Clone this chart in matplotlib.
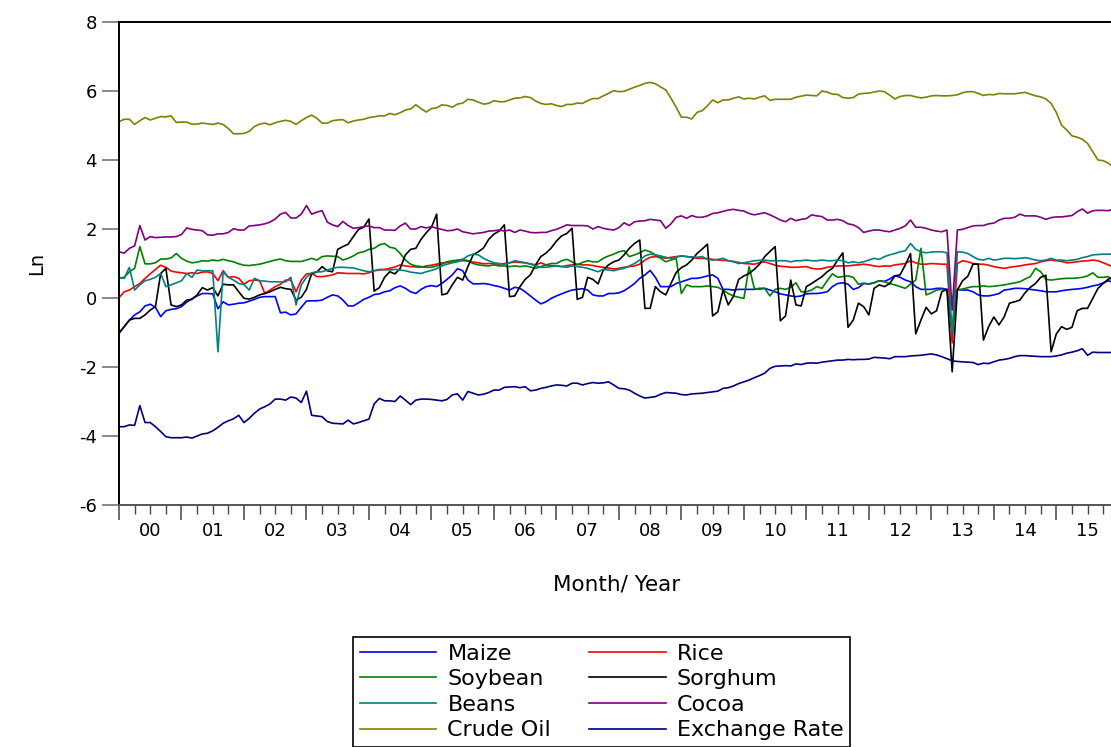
import numpy as np
import matplotlib
matplotlib.use('Agg')
from matplotlib import pyplot as plt

plt.rcParams['font.family'] = ['DejaVu Sans']
plt.rcParams['axes.unicode_minus'] = False

# monthly log values, Jan 2000 - Dec 2015 (one row per year)
maize = [-1.02, -0.83, -0.64, -0.49, -0.40, -0.23, -0.18, -0.27, -0.54, -0.37, -0.33, -0.31,
         -0.25, -0.12, -0.02, 0.06, 0.13, 0.13, 0.12, -0.31, -0.11, -0.20, -0.18, -0.15,
         -0.14, -0.09, -0.04, 0.02, 0.04, 0.04, 0.04, -0.43, -0.41, -0.49, -0.46, -0.27,
         -0.09, -0.08, -0.08, -0.06, 0.02, 0.09, 0.06, -0.06, -0.23, -0.23, -0.14, -0.04,
         0.02, 0.10, 0.12, 0.18, 0.21, 0.30, 0.35, 0.28, 0.18, 0.13, 0.25, 0.33,
         0.36, 0.33, 0.42, 0.54, 0.67, 0.85, 0.79, 0.52, 0.41, 0.41, 0.42, 0.40,
         0.36, 0.33, 0.28, 0.23, 0.31, 0.28, 0.18, 0.06, -0.06, -0.17, -0.11, -0.01,
         0.06, 0.12, 0.18, 0.23, 0.25, 0.27, 0.23, 0.09, 0.06, 0.06, 0.13, 0.13,
         0.15, 0.21, 0.31, 0.42, 0.57, 0.67, 0.80, 0.60, 0.33, 0.33, 0.33, 0.42,
         0.47, 0.52, 0.57, 0.57, 0.60, 0.64, 0.67, 0.57, 0.25, 0.25, 0.23, 0.25,
         0.25, 0.25, 0.25, 0.28, 0.28, 0.23, 0.18, 0.12, 0.09, 0.06, 0.04, 0.06,
         0.12, 0.13, 0.13, 0.15, 0.18, 0.33, 0.42, 0.44, 0.40, 0.25, 0.30, 0.42,
         0.41, 0.44, 0.50, 0.48, 0.55, 0.65, 0.60, 0.52, 0.47, 0.33, 0.25, 0.25,
         0.25, 0.28, 0.28, 0.25, -0.90, 0.25, 0.23, 0.23, 0.18, 0.09, 0.06, 0.06,
         0.09, 0.13, 0.23, 0.25, 0.28, 0.28, 0.27, 0.25, 0.23, 0.21, 0.18, 0.18,
         0.18, 0.21, 0.23, 0.25, 0.26, 0.28, 0.31, 0.35, 0.38, 0.44, 0.50, 0.45]

rice = [0.01, 0.18, 0.23, 0.33, 0.42, 0.57, 0.70, 0.83, 0.95, 0.89, 0.78, 0.75,
        0.73, 0.71, 0.73, 0.71, 0.75, 0.76, 0.71, 0.50, 0.79, 0.60, 0.62, 0.57,
        0.40, 0.50, 0.52, 0.50, 0.13, 0.23, 0.33, 0.40, 0.52, 0.52, 0.18, 0.52,
        0.70, 0.71, 0.62, 0.62, 0.64, 0.67, 0.73, 0.72, 0.71, 0.71, 0.71, 0.70,
        0.73, 0.79, 0.81, 0.83, 0.86, 0.90, 0.96, 0.93, 0.91, 0.90, 0.89, 0.93,
        0.95, 0.98, 1.02, 1.03, 1.05, 1.07, 1.08, 1.07, 1.04, 1.02, 0.99, 1.00,
        0.99, 0.98, 1.00, 1.02, 1.04, 1.03, 1.02, 0.99, 0.96, 1.02, 0.96, 0.94,
        0.93, 0.91, 0.94, 0.96, 0.98, 0.96, 0.96, 0.94, 0.91, 0.89, 0.87, 0.84,
        0.86, 0.89, 0.91, 0.93, 0.98, 1.10, 1.18, 1.20, 1.18, 1.15, 1.18, 1.20,
        1.22, 1.20, 1.18, 1.15, 1.15, 1.14, 1.12, 1.10, 1.09, 1.08, 1.06, 1.03,
        1.00, 0.99, 0.98, 1.02, 1.05, 1.00, 0.95, 0.92, 0.91, 0.89, 0.89, 0.90,
        0.91, 0.86, 0.84, 0.85, 0.89, 0.91, 0.93, 0.93, 0.93, 0.95, 0.96, 0.98,
        0.96, 0.93, 0.91, 0.93, 0.92, 0.96, 0.98, 1.00, 1.08, 1.02, 0.98, 0.98,
        1.00, 0.99, 0.98, 0.98, -1.30, 1.00, 1.08, 1.05, 1.00, 0.98, 0.98, 0.95,
        0.91, 0.88, 0.86, 0.89, 0.91, 0.93, 0.96, 0.98, 1.00, 1.05, 1.08, 1.10,
        1.08, 1.06, 1.02, 1.03, 1.05, 1.07, 1.08, 1.10, 1.08, 1.02, 0.96, 0.89]

soybean = [0.57, 0.60, 0.76, 0.86, 1.49, 0.99, 0.99, 1.02, 1.13, 1.13, 1.16, 1.29,
           1.15, 1.07, 1.02, 1.04, 1.08, 1.07, 1.10, 1.08, 1.12, 1.08, 1.05, 0.99,
           0.95, 0.94, 0.96, 0.98, 1.02, 1.06, 1.10, 1.13, 1.08, 1.06, 1.06, 1.06,
           1.10, 1.15, 1.10, 1.20, 1.22, 1.21, 1.20, 1.10, 1.15, 1.22, 1.31, 1.34,
           1.41, 1.44, 1.54, 1.58, 1.47, 1.44, 1.29, 1.10, 0.98, 0.93, 0.91, 0.89,
           0.89, 0.93, 0.98, 1.05, 1.08, 1.10, 1.12, 1.08, 1.00, 0.96, 0.94, 0.93,
           0.96, 0.93, 0.93, 0.91, 0.93, 0.91, 0.93, 0.90, 0.86, 0.91, 0.96, 1.00,
           1.00, 1.08, 1.12, 1.05, 0.96, 1.03, 1.08, 1.05, 1.05, 1.15, 1.22, 1.27,
           1.34, 1.37, 1.20, 1.25, 1.31, 1.39, 1.34, 1.25, 1.15, 1.05, 1.10, 1.15,
           0.13, 0.38, 0.33, 0.33, 0.33, 0.35, 0.33, 0.31, 0.23, 0.13, 0.06, 0.02,
           -0.01, 0.91, 0.28, 0.25, 0.28, 0.06, 0.25, 0.28, 0.25, 0.31, 0.44, 0.18,
           0.18, 0.23, 0.33, 0.28, 0.50, 0.70, 0.60, 0.62, 0.64, 0.60, 0.40, 0.43,
           0.40, 0.44, 0.50, 0.47, 0.42, 0.38, 0.33, 0.28, 0.40, 0.52, 1.44, 0.09,
           0.15, 0.23, 0.25, 0.23, -1.00, 0.23, 0.26, 0.30, 0.33, 0.33, 0.35, 0.33,
           0.34, 0.36, 0.38, 0.41, 0.44, 0.47, 0.55, 0.62, 0.86, 0.76, 0.54, 0.52,
           0.54, 0.56, 0.57, 0.57, 0.58, 0.60, 0.64, 0.73, 0.60, 0.60, 0.62, 0.47]

sorghum = [-1.02, -0.83, -0.64, -0.59, -0.59, -0.49, -0.35, -0.25, 0.71, 0.86, -0.20, -0.25,
           -0.20, -0.06, -0.04, 0.09, 0.30, 0.23, 0.30, 0.06, 0.40, 0.38, 0.38, 0.18,
           -0.01, -0.03, 0.02, 0.09, 0.13, 0.18, 0.25, 0.31, 0.27, 0.25, -0.06, 0.02,
           0.25, 0.71, 0.75, 0.91, 0.79, 0.76, 1.41, 1.49, 1.56, 1.78, 1.99, 2.05,
           2.29, 0.20, 0.30, 0.60, 0.76, 0.70, 0.86, 1.25, 1.41, 1.44, 1.70, 1.89,
           2.05, 2.43, 0.09, 0.13, 0.38, 0.60, 0.52, 0.91, 1.25, 1.34, 1.45, 1.70,
           1.85, 1.94, 2.12, 0.04, 0.06, 0.33, 0.54, 0.67, 0.96, 1.20, 1.30, 1.45,
           1.65, 1.80, 1.87, 2.02, -0.04, 0.02, 0.60, 0.54, 0.41, 0.81, 0.96, 1.05,
           1.10, 1.25, 1.44, 1.58, 1.68, -0.30, -0.30, 0.33, 0.18, 0.09, 0.42, 0.74,
           0.88, 0.96, 1.10, 1.29, 1.42, 1.56, -0.52, -0.40, 0.23, -0.20, 0.05, 0.54,
           0.64, 0.71, 0.83, 0.98, 1.20, 1.35, 1.49, -0.66, -0.52, 0.52, -0.20, -0.23,
           0.33, 0.42, 0.52, 0.62, 0.76, 0.86, 1.10, 1.31, -0.85, -0.64, -0.15, -0.25,
           -0.49, 0.28, 0.38, 0.33, 0.42, 0.64, 0.67, 0.96, 1.29, -1.04, -0.64, -0.27,
           -0.46, -0.37, 0.18, 0.25, -2.14, 0.23, 0.50, 0.63, 0.98, 0.98, -1.22, -0.83,
           -0.55, -0.78, -0.54, -0.15, -0.11, -0.06, 0.15, 0.31, 0.42, 0.60, 0.66, -1.56,
           -1.04, -0.83, -0.91, -0.85, -0.37, -0.30, -0.30, -0.01, 0.28, 0.42, 0.55, 0.60]

beans = [0.60, 0.57, 0.89, 0.23, 0.38, 0.50, 0.54, 0.60, 0.71, 0.33, 0.38, 0.44,
         0.50, 0.71, 0.60, 0.81, 0.79, 0.79, 0.79, -1.56, 0.76, 0.60, 0.52, 0.42,
         0.39, 0.23, 0.57, 0.50, 0.49, 0.47, 0.47, 0.47, 0.47, 0.60, -0.20, 0.38,
         0.60, 0.73, 0.76, 0.76, 0.81, 0.86, 0.89, 0.89, 0.88, 0.87, 0.83, 0.79,
         0.76, 0.79, 0.83, 0.82, 0.81, 0.83, 0.81, 0.79, 0.75, 0.73, 0.71, 0.76,
         0.80, 0.85, 0.93, 0.98, 1.02, 1.05, 1.12, 1.22, 1.27, 1.25, 1.15, 1.08,
         1.02, 1.00, 0.98, 1.02, 1.08, 1.05, 1.02, 0.98, 0.94, 0.89, 0.89, 0.91,
         0.93, 0.91, 0.89, 0.93, 0.91, 0.89, 0.86, 0.81, 0.76, 0.83, 0.81, 0.79,
         0.83, 0.86, 0.93, 1.00, 1.10, 1.22, 1.27, 1.25, 1.22, 1.18, 1.15, 1.18,
         1.22, 1.20, 1.19, 1.18, 1.20, 1.12, 1.10, 1.12, 1.15, 1.08, 1.05, 1.00,
         1.02, 1.05, 1.08, 1.09, 1.10, 1.08, 1.08, 1.08, 1.08, 1.05, 1.08, 1.08,
         1.10, 1.08, 1.08, 1.10, 1.08, 1.08, 1.10, 1.08, 1.02, 1.05, 1.02, 1.05,
         1.10, 1.15, 1.12, 1.20, 1.25, 1.29, 1.34, 1.37, 1.58, 1.41, 1.34, 1.31,
         1.33, 1.34, 1.34, 1.31, -1.00, 1.34, 1.33, 1.29, 1.20, 1.12, 1.10, 1.15,
         1.10, 1.12, 1.15, 1.15, 1.14, 1.15, 1.17, 1.14, 1.10, 1.08, 1.10, 1.15,
         1.10, 1.10, 1.08, 1.10, 1.12, 1.17, 1.20, 1.25, 1.26, 1.27, 1.27, 1.28]

cocoa = [1.34, 1.30, 1.44, 1.51, 2.10, 1.68, 1.78, 1.75, 1.76, 1.77, 1.77, 1.78,
         1.84, 2.03, 1.99, 1.97, 1.95, 1.83, 1.82, 1.86, 1.86, 1.90, 2.01, 1.97,
         1.97, 2.09, 2.10, 2.12, 2.15, 2.20, 2.29, 2.43, 2.48, 2.32, 2.32, 2.43,
         2.68, 2.43, 2.49, 2.53, 2.20, 2.12, 2.07, 2.22, 2.10, 2.02, 2.04, 2.07,
         2.09, 2.04, 2.04, 1.97, 1.97, 1.96, 2.09, 2.17, 2.00, 2.00, 2.07, 2.03,
         2.07, 2.02, 1.99, 1.95, 1.96, 2.00, 1.92, 1.89, 1.86, 1.88, 1.90, 1.94,
         1.95, 1.97, 1.94, 1.97, 1.90, 1.97, 1.94, 1.90, 1.89, 1.90, 1.90, 1.95,
         1.99, 2.05, 2.12, 2.10, 2.10, 2.10, 2.09, 2.00, 2.07, 2.02, 1.99, 1.97,
         2.04, 2.18, 2.10, 2.21, 2.23, 2.24, 2.28, 2.26, 2.24, 2.02, 2.15, 2.34,
         2.38, 2.31, 2.39, 2.34, 2.34, 2.38, 2.45, 2.47, 2.51, 2.55, 2.57, 2.54,
         2.52, 2.45, 2.41, 2.44, 2.47, 2.41, 2.34, 2.26, 2.21, 2.31, 2.24, 2.28,
         2.30, 2.41, 2.38, 2.36, 2.26, 2.26, 2.28, 2.24, 2.15, 2.12, 2.04, 1.90,
         1.94, 1.97, 1.97, 1.94, 1.92, 1.97, 2.02, 2.09, 2.26, 2.05, 2.05, 2.02,
         1.97, 1.94, 1.92, 1.97, -0.35, 1.97, 1.99, 2.04, 2.09, 2.10, 2.10, 2.15,
         2.17, 2.26, 2.31, 2.31, 2.34, 2.43, 2.38, 2.38, 2.38, 2.34, 2.28, 2.33,
         2.35, 2.35, 2.37, 2.39, 2.50, 2.58, 2.46, 2.53, 2.54, 2.54, 2.53, 2.58]

crude_oil = [5.11, 5.18, 5.18, 5.03, 5.14, 5.23, 5.16, 5.21, 5.26, 5.25, 5.28, 5.09,
             5.10, 5.10, 5.04, 5.04, 5.07, 5.05, 5.03, 5.07, 5.03, 4.91, 4.76, 4.76,
             4.77, 4.83, 4.97, 5.04, 5.07, 5.02, 5.08, 5.12, 5.15, 5.12, 5.03, 5.14,
             5.23, 5.30, 5.21, 5.07, 5.07, 5.14, 5.16, 5.17, 5.08, 5.13, 5.16, 5.18,
             5.23, 5.25, 5.28, 5.28, 5.35, 5.31, 5.37, 5.45, 5.48, 5.60, 5.49, 5.39,
             5.49, 5.51, 5.60, 5.58, 5.53, 5.62, 5.65, 5.76, 5.74, 5.68, 5.62, 5.64,
             5.72, 5.69, 5.69, 5.74, 5.79, 5.80, 5.84, 5.81, 5.71, 5.64, 5.61, 5.63,
             5.58, 5.55, 5.61, 5.61, 5.65, 5.64, 5.72, 5.78, 5.78, 5.86, 5.93, 6.01,
             5.98, 5.99, 6.05, 6.11, 6.16, 6.22, 6.25, 6.21, 6.12, 6.03, 5.79, 5.53,
             5.24, 5.24, 5.19, 5.38, 5.43, 5.57, 5.74, 5.66, 5.74, 5.74, 5.79, 5.83,
             5.77, 5.79, 5.77, 5.82, 5.86, 5.73, 5.76, 5.76, 5.76, 5.76, 5.82, 5.85,
             5.88, 5.87, 5.86, 6.00, 5.97, 5.91, 5.90, 5.81, 5.79, 5.81, 5.91, 5.93,
             5.94, 5.97, 6.00, 5.98, 5.88, 5.77, 5.84, 5.87, 5.87, 5.83, 5.80, 5.82,
             5.86, 5.87, 5.86, 5.86, 5.87, 5.89, 5.95, 5.98, 5.98, 5.93, 5.87, 5.90,
             5.89, 5.93, 5.92, 5.92, 5.92, 5.94, 5.96, 5.91, 5.86, 5.83, 5.77, 5.64,
             5.38, 5.01, 4.87, 4.70, 4.66, 4.60, 4.48, 4.24, 4.00, 3.98, 3.91, 3.78]

exchange_rate = [-3.73, -3.73, -3.68, -3.69, -3.12, -3.61, -3.61, -3.73, -3.87, -4.02, -4.05, -4.05,
                 -4.05, -4.03, -4.06, -4.00, -3.94, -3.92, -3.85, -3.75, -3.63, -3.56, -3.50, -3.40,
                 -3.61, -3.49, -3.34, -3.22, -3.15, -3.07, -2.93, -2.93, -2.96, -2.87, -2.90, -3.03,
                 -2.70, -3.40, -3.42, -3.44, -3.58, -3.63, -3.64, -3.65, -3.54, -3.65, -3.61, -3.56,
                 -3.51, -3.07, -2.91, -2.98, -2.98, -3.00, -2.84, -2.96, -3.09, -2.96, -2.93, -2.93,
                 -2.94, -2.96, -2.98, -2.94, -2.81, -2.78, -2.96, -2.71, -2.76, -2.81, -2.79, -2.74,
                 -2.67, -2.67, -2.59, -2.58, -2.57, -2.60, -2.57, -2.69, -2.67, -2.62, -2.59, -2.55,
                 -2.52, -2.53, -2.55, -2.47, -2.47, -2.52, -2.48, -2.45, -2.47, -2.46, -2.43, -2.52,
                 -2.62, -2.63, -2.67, -2.76, -2.84, -2.90, -2.88, -2.86, -2.79, -2.74, -2.75, -2.76,
                 -2.80, -2.81, -2.78, -2.77, -2.76, -2.74, -2.72, -2.70, -2.62, -2.60, -2.55, -2.48,
                 -2.43, -2.38, -2.31, -2.25, -2.18, -2.04, -1.98, -1.97, -1.96, -1.97, -1.91, -1.93,
                 -1.89, -1.88, -1.89, -1.86, -1.84, -1.82, -1.80, -1.80, -1.78, -1.79, -1.78, -1.78,
                 -1.77, -1.72, -1.73, -1.74, -1.76, -1.70, -1.70, -1.70, -1.68, -1.67, -1.66, -1.64,
                 -1.62, -1.65, -1.70, -1.76, -1.82, -1.84, -1.85, -1.86, -1.87, -1.93, -1.89, -1.90,
                 -1.85, -1.80, -1.78, -1.75, -1.70, -1.67, -1.67, -1.68, -1.69, -1.70, -1.70, -1.70,
                 -1.68, -1.65, -1.60, -1.57, -1.53, -1.47, -1.66, -1.57, -1.58, -1.58, -1.58, -1.58]

year_labels = ['00', '01', '02', '03', '04', '05', '06', '07',
               '08', '09', '10', '11', '12', '13', '14', '15']

series = [('Maize', maize, '#0000ff'),
          ('Rice', rice, '#ff0000'),
          ('Soybean', soybean, '#008000'),
          ('Sorghum', sorghum, '#000000'),
          ('Beans', beans, '#008080'),
          ('Cocoa', cocoa, '#800080'),
          ('Crude Oil', crude_oil, '#808000'),
          ('Exchange Rate', exchange_rate, '#000080')]

fig = plt.figure(figsize=(11.11, 7.47), dpi=100)
# right edge of the frame falls just outside the picture
ax = fig.add_axes([119 / 1111, 242 / 747, 994.6 / 1111, 483 / 747])

months = np.arange(len(maize))
lines = {}
for name, vals, col in series:
    lines[name], = ax.plot(months, vals, color=col, lw=1.2, label=name)

ax.set_xlim(0, len(maize) - 1)
ax.set_ylim(-6, 8)
ax.set_yticks(np.arange(-6, 9, 2))

# year boundaries = long ticks, quarters = short ticks, labels mid-year
ax.set_xticks(np.arange(0, len(maize), 12), [''] * len(year_labels))
quarters = [q for q in range(3, len(maize), 3) if q % 12 != 0]
ax.set_xticks(quarters, [year_labels[q // 12] if q % 12 == 6 else '' for q in quarters], minor=True)

ax.tick_params(axis='x', which='major', direction='out', length=11, width=1.1, color='#444444')
ax.tick_params(axis='x', which='minor', direction='out', length=6.5, width=1.0, color='#444444',
               labelsize=13, pad=6)
ax.tick_params(axis='y', direction='out', length=12, width=1.4, color='#888888',
               labelsize=13, pad=4)

for s in ['left', 'top']:
    ax.spines[s].set_linewidth(1.4)
    ax.spines[s].set_color('black')
ax.spines['bottom'].set_linewidth(1.4)
ax.spines['bottom'].set_color('#555555')
ax.spines['right'].set_visible(False)

ax.set_ylabel('Ln', fontsize=14)
ax.yaxis.label.set_ha('center')
ax.yaxis.label.set_va('center')
ax.yaxis.set_label_coords(-0.0824, 0.5)
ax.set_xlabel('Month/ Year', fontsize=15.5)
ax.xaxis.label.set_va('center')
ax.xaxis.set_label_coords(0.5, -0.1656)

order = ['Maize', 'Soybean', 'Beans', 'Crude Oil', 'Rice', 'Sorghum', 'Cocoa', 'Exchange Rate']
leg = fig.legend([lines[n] for n in order], order, ncol=2, loc='upper left',
                 bbox_to_anchor=(353 / 1111, 1 - 637 / 747), fontsize=16,
                 handlelength=3.45, handletextpad=0.5, columnspacing=1.7,
                 labelspacing=0.25, borderpad=0.3, fancybox=False, framealpha=1,
                 edgecolor='black', borderaxespad=0)
leg.get_frame().set_linewidth(1.2)

plt.savefig('out.png', dpi=100)
